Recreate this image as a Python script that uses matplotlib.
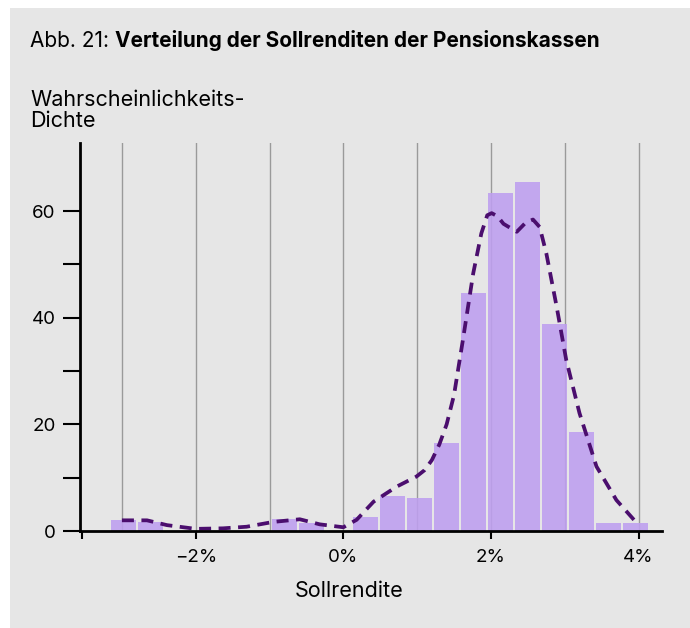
import numpy as np
import matplotlib
matplotlib.use("Agg")
import matplotlib.pyplot as plt
from matplotlib.ticker import FixedLocator

# ---------------- data ----------------
bin_start = -0.0315
bin_end = 0.0415
n_bins = 20
hist_density = [2.06, 1.7, 0.0, 0.0, 0.0, 0.0, 2.25, 1.5, 0.0, 2.6,
                6.56, 6.19, 16.5, 44.6, 63.4, 65.4, 38.8, 18.6, 1.5, 1.5]

kde_x_pct = [-3.0, -2.66, -2.39, -2.0, -1.63, -1.31, -0.95, -0.59, -0.32, 0.0,
             0.18, 0.41, 0.72, 0.99, 1.1, 1.2, 1.3, 1.4, 1.5, 1.62, 1.76,
             1.87, 1.95, 2.01, 2.09, 2.17, 2.35, 2.47, 2.57, 2.66, 2.75, 2.89,
             3.02, 3.2, 3.43, 3.70, 3.97]
kde_y = [2.0, 2.0, 1.1, 0.4, 0.5, 0.8, 1.7, 2.2, 1.25, 0.7,
         2.1, 5.5, 8.3, 10.2, 11.4, 13.3, 16.2, 20.0, 25.5, 35.8, 48.3,
         55.8, 59.2, 59.6, 59.0, 57.6, 56.1, 57.8, 58.4, 57.0, 52.1, 42.1,
         32.1, 22.1, 12.1, 5.8, 1.6]

x_ticks = [-0.02, 0.0, 0.02, 0.04]
x_tick_labels = ["\u22122%", "0%", "2%", "4%"]
grid_x = [-0.03, -0.02, -0.01, 0.0, 0.01, 0.02, 0.03, 0.04]
y_ticks = [0, 20, 40, 60]
y_minor = [10, 30, 50]

title_regular = "Abb. 21: "
title_bold = "Verteilung der Sollrenditen der Pensionskassen"
y_label_lines = ["Wahrscheinlichkeits-", "Dichte"]
x_label = "Sollrendite"

# ---------------- style ----------------
BG = "#e6e6e6"
BAR = "#be9ff0"
LINE = "#4b0e6e"
GRID = "#9a9a9a"
FONT = ["Inter", "DejaVu Sans"]
plt.rcParams["font.family"] = FONT

W, H, DPI = 690, 628, 100
fig = plt.figure(figsize=(W / DPI, H / DPI), dpi=DPI, facecolor="white")
# grey panel
fig.patches.append(plt.Rectangle((10 / W, 0), 1 - 10 / W, 1 - 8 / H,
                                 transform=fig.transFigure, facecolor=BG,
                                 edgecolor="none", zorder=-10))

ax = fig.add_axes([80 / W, 1 - 531 / H, (662 - 80) / W, (531 - 143) / H])
ax.set_facecolor(BG)
ax.patch.set_alpha(0)

xlim = (-0.03568, 0.04318)
ax.set_xlim(*xlim)
ax.set_ylim(0, 72.75)

edges = np.linspace(bin_start, bin_end, n_bins + 1)
px_per_unit = (662 - 80) / (xlim[1] - xlim[0])
gap = 2.0 / px_per_unit
ax.bar(edges[:-1], hist_density, width=np.diff(edges) - gap, align="edge",
       color=BAR, alpha=0.88, edgecolor="none", linewidth=0, zorder=2)

for gx in grid_x:
    ax.axvline(gx, color=GRID, linewidth=1.0, zorder=1)

ax.plot(np.array(kde_x_pct) / 100.0, kde_y, color=LINE, linewidth=2.7,
        linestyle=(0, (3.2, 2.0)), zorder=3, dash_capstyle="butt",
        solid_joinstyle="round")

for s in ["top", "right"]:
    ax.spines[s].set_visible(False)
ax.spines["left"].set_linewidth(2.0)
ax.spines["bottom"].set_linewidth(2.0)
ax.spines["left"].set_zorder(5)
ax.spines["bottom"].set_zorder(5)

ax.set_xticks(x_ticks)
ax.set_xticklabels(x_tick_labels)
ax.xaxis.set_minor_locator(FixedLocator([-0.0354]))
ax.tick_params(axis="x", which="both", direction="out", length=6, width=1.5,
               pad=7, labelsize=13.5, colors="black")
ax.set_yticks(y_ticks)
ax.yaxis.set_minor_locator(FixedLocator(y_minor))
ax.tick_params(axis="y", which="both", direction="out", length=12.5, width=1.5,
               pad=5, labelsize=13.5)

# x label
fig.text(349.5 / W, 1 - 597 / H, x_label, fontsize=15.5, ha="center",
         va="baseline")

# y label at top-left
fig.text(30 / W, 1 - 106 / H, y_label_lines[0], fontsize=15.5, ha="left",
         va="baseline")
fig.text(30 / W, 1 - 127 / H, y_label_lines[1], fontsize=15.5, ha="left",
         va="baseline")

# title: regular + bold
t1 = fig.text(30 / W, 1 - 47 / H, title_regular, fontsize=15, ha="left",
              va="baseline")
fig.canvas.draw()
bb = t1.get_window_extent(renderer=fig.canvas.get_renderer())
fig.text(bb.x1 / W, 1 - 47 / H, title_bold, fontsize=15, fontweight="bold",
         ha="left", va="baseline")

fig.savefig("out.png", dpi=DPI, facecolor="white")
